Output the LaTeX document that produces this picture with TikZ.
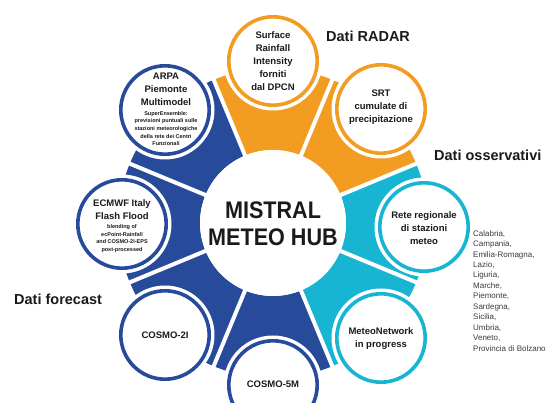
\documentclass[tikz,border=0pt]{standalone}
\usepackage{fontspec}
\setmainfont{Liberation Sans}
\newfontfamily\hubfont[FakeStretch=0.9]{Liberation Sans}
\usetikzlibrary{calc}
\definecolor{segorange}{HTML}{F29D22}
\definecolor{segcyan}{HTML}{17B5D2}
\definecolor{segblue}{HTML}{274A9B}
\definecolor{ink}{HTML}{1A1A1A}
\definecolor{listgray}{HTML}{3A3A3A}

\begin{document}
\begin{tikzpicture}[x=1pt,y=1pt,
  sat/.style={circle, draw=#1, line width=3.6pt, fill=white, minimum size=88.4pt, inner sep=0pt},
  halo/.style={circle, fill=white, minimum size=99pt, inner sep=0pt},
  sattext/.style={font=\bfseries\fontsize{9.5}{13}\selectfont, align=center, text=ink, inner sep=0pt},
  smalltext/.style={font=\bfseries\fontsize{5.5}{7.7}\selectfont, align=center, text=ink, inner sep=0pt},
  header/.style={font=\bfseries\fontsize{14.5}{17}\selectfont, anchor=west, inner sep=0pt, text=ink},
  hubtext/.style={font=\hubfont\bfseries\fontsize{24}{28}\selectfont, text=ink, inner sep=0pt},
]
\useasboundingbox (0,0) rectangle (549,403);
\coordinate (C) at (273,180);

% ring of coloured segments around the hub
\foreach \a/\c in {90/segorange, 45/segorange, 0/segcyan, -45/segcyan,
                   -90/segblue, -135/segblue, 180/segblue, 135/segblue}{
  \fill[\c, shift={(C)}] (\a-22.5:73pt) arc[start angle=\a-22.5, end angle=\a+22.5, radius=73pt]
     -- (\a+22.5:155pt) arc[start angle=\a+22.5, end angle=\a-22.5, radius=155pt] -- cycle;
}
% white gaps between neighbouring segments
\foreach \a in {22.5,67.5,...,337.5}{
  \draw[white, line width=4pt, shift={(C)}] (\a:60pt) -- (\a:175pt);
}

% central hub
\node[circle, fill=white, minimum size=146pt, inner sep=0pt] (hub) at (C) {};
\node[hubtext] (hubA) at (273,193) {MISTRAL};
\node[hubtext] (hubB) at (273,166) {METEO HUB};

% satellite circles
\foreach \n/\p/\c in {srf/{(273,342)}/segorange, srt/{(381,294)}/segorange,
                      rete/{(424,176)}/segcyan, mnet/{(381,65)}/segcyan,
                      c5m/{(273,18)}/segblue, c2i/{(165,68)}/segblue,
                      ecm/{(122,179)}/segblue, arpa/{(165,293)}/segblue}{
  \node[halo] (\n-h) at \p {};
  \node[sat=\c] (\n) at \p {};
}

% satellite texts
\node[sattext] (srf-t) at (273,341.5) {Surface\\Rainfall\\Intensity\\forniti\\dal DPCN};
\node[sattext] (srt-t) at (381,296) {SRT\\cumulate di\\precipitazione};
\node[sattext] (rete-t) at (424,175) {Rete regionale\\di stazioni\\meteo};
\node[sattext] (mnet-t) at (381,64.5) {MeteoNetwork\\in progress};
\node[sattext] (c5m-t) at (273,19) {COSMO-5M};
\node[sattext] (c2i-t) at (165,68) {COSMO-2I};
\node[sattext] (arpa-t) at (166,313.7) {ARPA\\Piemonte\\Multimodel};
\node[smalltext] (arpa-s) at (166,274.5) {SuperEnsemble:\\previsioni puntuali sulle\\stazioni meteorologiche\\della rete dei Centri\\Funzionali};
\node[sattext] (ecm-t) at (122,193.5) {ECMWF Italy\\Flash Flood};
\node[smalltext] (ecm-s) at (122,164.5) {blending of\\ecPoint-Rainfall\\and COSMO-2I-EPS\\post-processed};

% group headings
\node[header] (hRadar) at (326,367) {Dati RADAR};
\node[header] (hOss) at (434,248) {Dati osservativi};
\node[header] (hFor) at (14,104) {Dati forecast};

% list of regions
\node[anchor=north west, inner sep=0pt, align=left, text=listgray,
      font=\fontsize{8}{10.45}\selectfont] (regions) at (473,172.8)
  {Calabria,\\Campania,\\Emilia-Romagna,\\Lazio,\\Liguria,\\Marche,\\Piemonte,\\Sardegna,\\Sicilia,\\Umbria,\\Veneto,\\Provincia di Bolzano};
\end{tikzpicture}
\end{document}
